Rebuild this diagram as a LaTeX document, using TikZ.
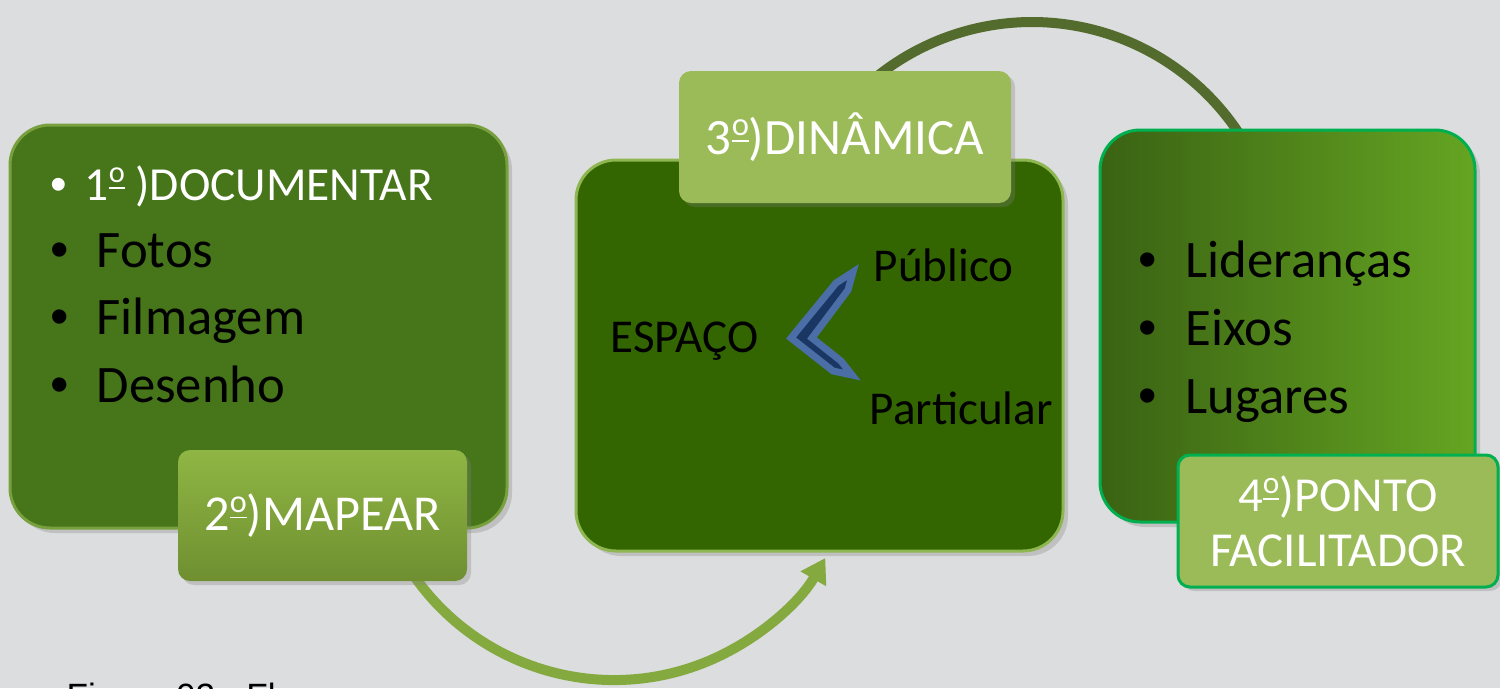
\documentclass[tikz,border=0pt]{standalone}
\usepackage{fontspec}
\setmainfont{Carlito}
\newfontfamily\capfont{Liberation Sans}
\newfontfamily\bulfont{Liberation Sans}
\usetikzlibrary{arrows.meta,shadows}
\definecolor{marble}{RGB}{220,221,222}
\definecolor{docgreen}{RGB}{71,117,26}
\definecolor{docedge}{RGB}{120,160,62}
\definecolor{mapeartop}{RGB}{143,182,68}
\definecolor{mapearbot}{RGB}{111,143,48}
\definecolor{espgreen}{RGB}{51,102,0}
\definecolor{espedge}{RGB}{142,182,81}
\definecolor{dingreen}{RGB}{155,187,89}
\definecolor{liddark}{RGB}{58,98,19}
\definecolor{lidlight}{RGB}{101,165,34}
\definecolor{brightedge}{RGB}{0,176,80}
\definecolor{toparrow}{RGB}{83,107,44}
\definecolor{botarrow}{RGB}{132,169,63}
\definecolor{chevfill}{RGB}{26,55,100}
\definecolor{chevedge}{RGB}{74,110,165}
\newcommand\bul[1]{\makebox[#1][l]{\bulfont •}}
% ordinal sign with the bar under it
\newcommand\ordm{\raisebox{.36em}{\fontsize{.64em}{1em}\selectfont\underline{o}}}
\begin{document}
\begin{tikzpicture}[x=0.1mm,y=0.1mm,
    box/.style={rounded corners=4mm, inner sep=0pt,
      drop shadow={shadow xshift=0.5mm,shadow yshift=-0.5mm,opacity=0.3}},
    tag/.style={rounded corners=1.2mm, inner sep=0pt, text=white, align=center,
      drop shadow={shadow xshift=0.4mm,shadow yshift=-0.4mm,opacity=0.3}},
    item/.style={anchor=base west, inner sep=0pt, font=\fontsize{15}{18}\selectfont},
    word/.style={anchor=base west, inner sep=0pt, font=\fontsize{13.4}{16}\selectfont}
  ]
  \useasboundingbox (0,0) rectangle (1500,688);
  \fill[marble] (0,0) rectangle (1500,688);

  % arcs behind the boxes
  \draw[toparrow, line width=1mm] (1032,418) ++(140:24.8mm) coordinate (topstart)
    arc[start angle=140, end angle=25, radius=24.8mm] coordinate (topend);
  \draw[botarrow, line width=1mm, -{Triangle[width=2.8mm,length=2.4mm]}]
    (614,252) ++(205:24.4mm) coordinate (botstart)
    arc[start angle=205, end angle=330, radius=24.4mm] coordinate (botend);

  % boxes
  \node[box, fill=docgreen, draw=docedge, line width=0.3mm,
    minimum width=49.7mm, minimum height=40.3mm] (docbox) at (258.5,361.5) {};
  \node[tag, top color=mapeartop, bottom color=mapearbot,
    minimum width=28.9mm, minimum height=13.1mm,
    font=\fontsize{14.3}{17}\selectfont] (mapear) at (322.5,172.5) {2\ordm)MAPEAR};
  \node[box, fill=espgreen, draw=espedge, line width=0.3mm,
    minimum width=48.7mm, minimum height=39.1mm] (espbox) at (819.5,332.5) {};
  \node[tag, fill=dingreen,
    minimum width=33.2mm, minimum height=13.2mm,
    font=\fontsize{14.5}{17}\selectfont] (dinamica) at (845,551) {3\ordm)DINÂMICA};
  \node[box, left color=liddark, right color=lidlight, draw=brightedge, line width=0.3mm,
    minimum width=37.5mm, minimum height=39.2mm] (lidbox) at (1287.5,362) {};
  \node[tag, fill=dingreen, draw=brightedge, line width=0.3mm,
    minimum width=32mm, minimum height=13.2mm,
    font=\fontsize{13.9}{15.6}\selectfont] (ponto) at (1338,167) {4\ordm)PONTO\\FACILITADOR};

  % left list
  \node[item, text=white, font=\fontsize{13.5}{16}\selectfont] (documentar) at (50,488)
    {\bul{3.4mm}1\ordm{} )DOCUMENTAR};
  \node[item] (fotos) at (50,421) {\bul{4.6mm}Fotos};
  \node[item] (filmagem) at (50,354) {\bul{4.6mm}Filmagem};
  \node[item] (desenho) at (50,286) {\bul{4.6mm}Desenho};

  % middle
  \node[word] (espaco) at (610,336) {ESPAÇO};
  \node[word] (publico) at (873,407) {Público};
  \node[word] (particular) at (869,264) {Particular};
  \filldraw[fill=chevfill, draw=chevedge, line width=0.7mm]
    (791,350) -- (836,405) -- (853,416) -- (848,398) -- (812,350) -- (841,327)
    -- (852,313) -- (833,317) -- cycle;

  % right list
  \node[item] (liderancas) at (1138,411) {\bul{4.7mm}Lideranças};
  \node[item] (eixos) at (1138,343) {\bul{4.7mm}Eixos};
  \node[item] (lugares) at (1138,275) {\bul{4.7mm}Lugares};

  \node[anchor=north west, inner sep=0pt, font=\capfont\fontsize{10}{12}\selectfont]
    (caption) at (66,6) {Figura 02 - Fl};
\end{tikzpicture}
\end{document}
